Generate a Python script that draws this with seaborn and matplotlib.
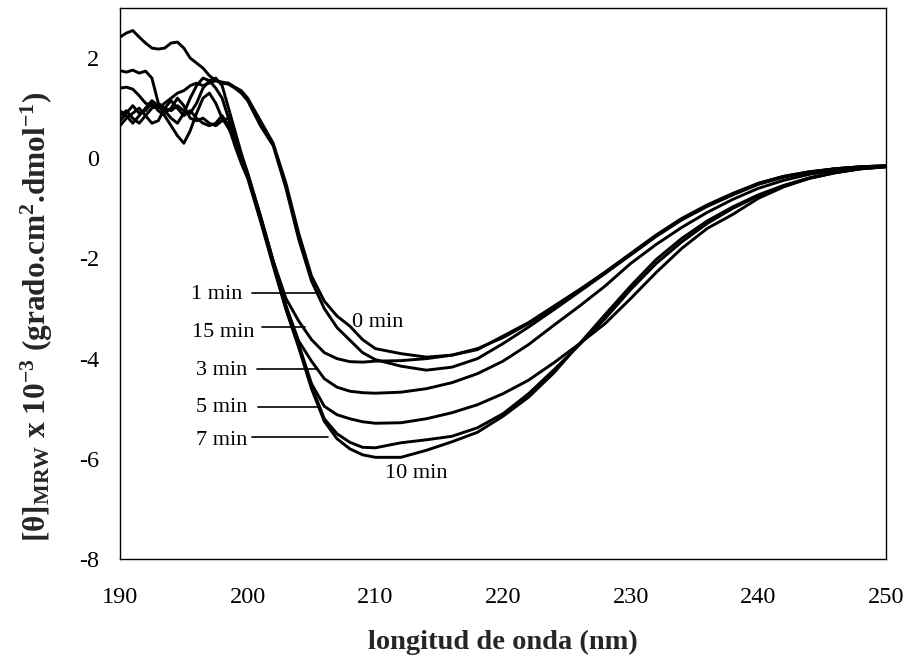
import matplotlib
matplotlib.use("Agg")
import matplotlib.pyplot as plt
import seaborn as sns
import pandas as pd

wavelength = [190, 190.5, 191, 191.5, 192, 192.5, 193, 193.5, 194, 194.5, 195, 195.5,
              196, 196.5, 197, 197.5, 198, 198.5, 199, 199.5, 200,
              201, 202, 203, 204, 205, 206, 207, 208, 209, 210,
              212, 214, 216, 218, 220, 222, 224, 226, 228, 230, 232, 234, 236, 238,
              240, 242, 244, 246, 248, 250]

min0 = [2.42, 2.5, 2.55, 2.42, 2.3, 2.2, 2.18, 2.2, 2.3, 2.32, 2.2, 2.0, 1.9, 1.8, 1.65, 1.55, 1.52, 1.5, 1.42, 1.35, 1.2,
        0.75, 0.3, -0.5, -1.5, -2.35, -2.85, -3.15, -3.35, -3.62, -3.8,
        -3.9, -3.97, -3.93, -3.82, -3.55, -3.28, -2.95, -2.62, -2.28, -1.92, -1.55, -1.22, -0.95, -0.72, -0.5, -0.36, -0.27, -0.21, -0.17, -0.15]
min1 = [1.4, 1.42, 1.38, 1.25, 1.1, 1.05, 1.0, 1.1, 1.2, 1.3, 1.35, 1.45, 1.5, 1.45, 1.5, 1.55, 1.5, 1.48, 1.4, 1.3, 1.15,
        0.65, 0.25, -0.6, -1.62, -2.45, -3.0, -3.38, -3.63, -3.88, -4.02,
        -4.15, -4.23, -4.17, -4.0, -3.7, -3.37, -3.02, -2.66, -2.3, -1.93, -1.56, -1.23, -0.96, -0.73, -0.52, -0.38, -0.28, -0.21, -0.17, -0.15]
min3 = [1.75, 1.72, 1.76, 1.7, 1.74, 1.6, 1.1, 1.0, 0.95, 1.05, 0.95, 0.9, 1.1, 1.4, 1.55, 1.6, 1.45, 1.0, 0.55, 0.1, -0.3,
        -1.15, -2.05, -2.95, -3.65, -4.05, -4.4, -4.57, -4.65, -4.68, -4.69,
        -4.67, -4.6, -4.48, -4.3, -4.05, -3.72, -3.33, -2.95, -2.55, -2.1, -1.72, -1.38, -1.08, -0.82, -0.6, -0.44, -0.32, -0.24, -0.19, -0.16]
min5 = [0.75, 0.9, 1.05, 0.9, 0.95, 1.1, 0.95, 0.85, 0.65, 0.45, 0.3, 0.55, 0.9, 1.2, 1.3, 1.1, 0.8, 0.6, 0.35, 0.0, -0.35,
        -1.2, -2.1, -2.95, -3.72, -4.5, -4.95, -5.12, -5.2, -5.26, -5.29,
        -5.28, -5.2, -5.08, -4.92, -4.7, -4.43, -4.08, -3.7, -3.3, -2.8, -2.28, -1.8, -1.4, -1.12, -0.8, -0.57, -0.4, -0.29, -0.21, -0.17]
min7 = [0.95, 0.85, 0.7, 0.85, 1.0, 1.15, 1.05, 0.9, 1.0, 1.2, 1.05, 0.8, 0.75, 0.8, 0.7, 0.65, 0.75, 0.8, 0.3, -0.05, -0.35,
        -1.2, -2.12, -3.0, -3.75, -4.55, -5.2, -5.5, -5.67, -5.77, -5.78,
        -5.68, -5.62, -5.55, -5.38, -5.1, -4.7, -4.22, -3.72, -3.2, -2.62, -2.1, -1.67, -1.3, -1.0, -0.75, -0.55, -0.4, -0.29, -0.21, -0.17]
min10 = [0.65, 0.8, 0.9, 1.0, 0.85, 0.7, 0.75, 1.0, 1.15, 1.0, 0.85, 0.95, 0.8, 0.7, 0.65, 0.7, 0.85, 0.65, 0.25, -0.1, -0.4,
         -1.25, -2.15, -3.02, -3.78, -4.6, -5.25, -5.6, -5.8, -5.92, -5.97,
         -5.97, -5.83, -5.66, -5.47, -5.15, -4.77, -4.28, -3.7, -3.12, -2.55, -2.02, -1.6, -1.25, -0.97, -0.73, -0.54, -0.39, -0.28, -0.21, -0.17]
min15 = [0.85, 0.95, 0.8, 0.7, 0.85, 1.0, 1.05, 0.95, 0.8, 0.7, 0.9, 1.2, 1.45, 1.6, 1.55, 1.4, 1.2, 0.8, 0.45, 0.05, -0.3,
         -1.15, -2.05, -2.8, -3.25, -3.62, -3.88, -4.0, -4.06, -4.07, -4.05,
         -4.04, -4.0, -3.93, -3.8, -3.58, -3.3, -2.98, -2.63, -2.27, -1.9, -1.53, -1.2, -0.93, -0.7, -0.5, -0.36, -0.27, -0.21, -0.17, -0.15]

series_names = ["0 min", "1 min", "3 min", "5 min", "7 min", "10 min", "15 min"]
series_values = [min0, min1, min3, min5, min7, min10, min15]

x_ticks = [190, 200, 210, 220, 230, 240, 250]
y_ticks = [-8, -6, -4, -2, 0, 2]

sns.set_style("white")
plt.rcParams["font.family"] = ["Liberation Serif", "DejaVu Serif"]
plt.rcParams["mathtext.fontset"] = "custom"
plt.rcParams["mathtext.rm"] = "Liberation Serif:bold"
plt.rcParams["mathtext.bf"] = "Liberation Serif:bold"
plt.rcParams["mathtext.it"] = "Liberation Serif:bold"
plt.rcParams["axes.unicode_minus"] = False

rows = []
for name, vals in zip(series_names, series_values):
    for w, v in zip(wavelength, vals):
        rows.append({"wl": w, "val": v, "serie": name})
df = pd.DataFrame(rows)

fig = plt.figure(figsize=(9.08, 6.63), dpi=100)
ax = fig.add_axes([120 / 908, 104 / 663, 766 / 908, 551 / 663])

sns.lineplot(data=df, x="wl", y="val", hue="serie", units="serie", estimator=None,
             palette=["black"] * len(series_names), legend=False, linewidth=2.1,
             sort=False, ax=ax)

ax.set_xlim(190, 250)
ax.set_ylim(-8, 3)
ax.set_xticks(x_ticks)
ax.set_yticks(y_ticks)
ax.set_xticklabels([str(t) for t in x_ticks])
ax.set_yticklabels([str(t) for t in y_ticks])
for s in ax.spines.values():
    s.set_visible(True)
    s.set_color("black")
    s.set_linewidth(1.0)
ax.tick_params(axis="both", which="major", direction="out", length=6, width=1.0,
               color="black", labelsize=17.5, labelcolor="black")
ax.tick_params(axis="x", pad=14)
ax.tick_params(axis="y", pad=9)
ax.grid(False)

ax.set_xlabel("longitud de onda (nm)", fontsize=20.5, fontweight="bold", labelpad=16)
ax.set_ylabel(r"[θ]$_{\mathbf{MRW}}$ x 10$^{\mathbf{-3}}$ (grado.cm$^{\mathbf{2}}$.dmol$^{\mathbf{-1}}$)",
              fontsize=22.5, fontweight="bold")
ax.yaxis.set_label_coords(-0.085, 0.44)

# annotations: (label, text x, text y, leader start, leader end, leader y)
left_labels = [("1 min", 199.55, -2.71, 200.34, 205.5, -2.69),
               ("15 min", 200.57, -3.47, 201.12, 204.49, -3.37),
               ("3 min", 199.95, -4.23, 200.73, 205.5, -4.21),
               ("5 min", 199.95, -4.97, 200.8, 205.5, -4.97),
               ("7 min", 199.95, -5.63, 200.34, 206.29, -5.57)]
for lab, tx, ty, x0, x1, ly in left_labels:
    ax.text(tx, ty, lab, ha="right", va="center", fontsize=16, color="black")
    ax.plot([x0, x1], [ly, ly], color="black", linewidth=1.2)

ax.text(208.17, -3.27, "0 min", ha="left", va="center", fontsize=16, color="black")
ax.text(210.75, -6.29, "10 min", ha="left", va="center", fontsize=16, color="black")

fig.savefig("out.png", dpi=100, facecolor="white")
